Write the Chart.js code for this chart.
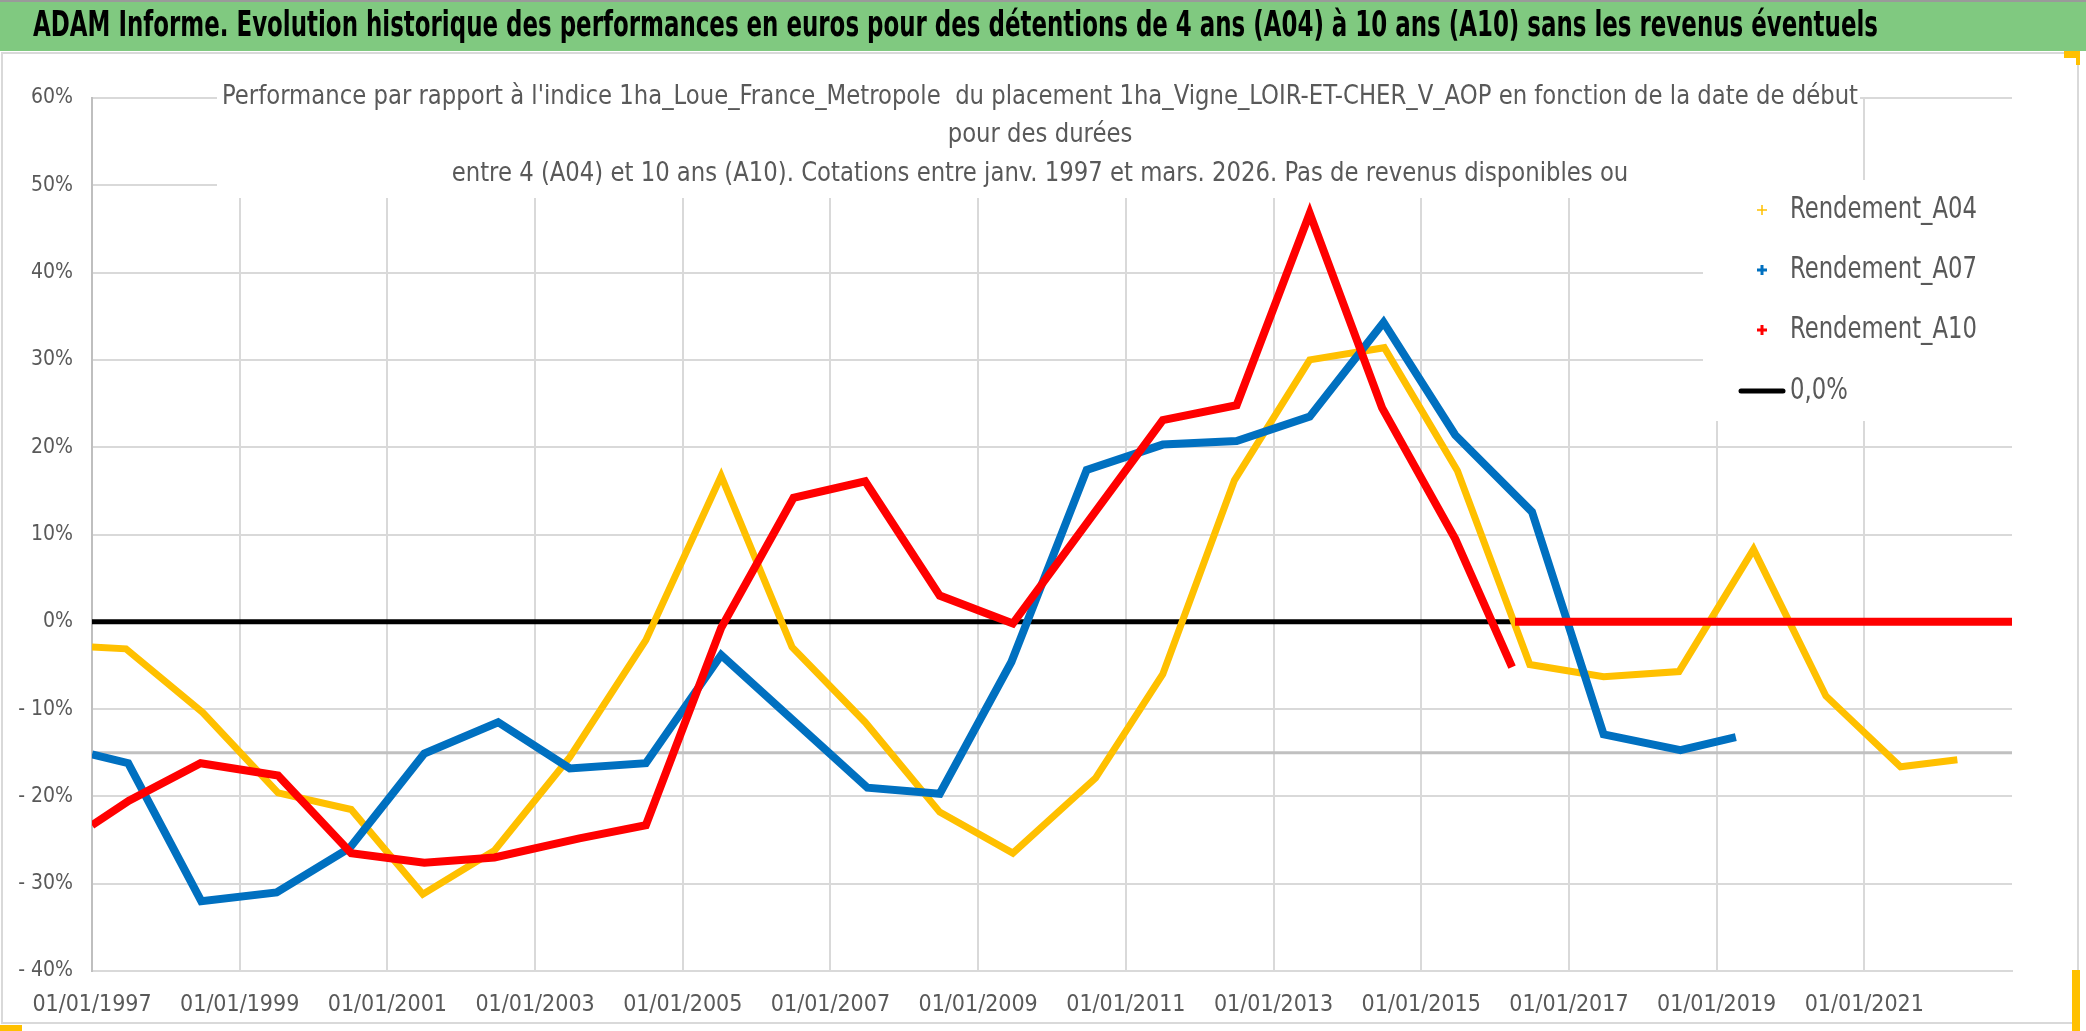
<!DOCTYPE html>
<html>
<head>
<meta charset="utf-8">
<script src="https://cdn.jsdelivr.net/npm/chart.js@4.4.1/dist/chart.umd.min.js"></script>
<style>
  html, body { margin: 0; padding: 0; background: #fff; overflow: hidden; }
  canvas { display: block; }
</style>
</head>
<body>
<canvas id="chart" width="2086" height="1031"></canvas>
<script>
// texts
const titleText = 'ADAM Informe. Evolution historique des performances en euros pour des détentions de 4 ans (A04) à 10 ans (A10) sans les revenus éventuels';
const subtitleLines = [
    "Performance par rapport à l'indice 1ha_Loue_France_Metropole  du placement 1ha_Vigne_LOIR-ET-CHER_V_AOP en fonction de la date de début",
    'pour des durées',
    'entre 4 (A04) et 10 ans (A10). Cotations entre janv. 1997 et mars. 2026. Pas de revenus disponibles ou'
];
const seriesNames = ['Rendement_A04', 'Rendement_A07', 'Rendement_A10', '0,0%'];

// x axis: years (01/01/YYYY), y axis: percent
const xMin = 1997, xMax = 2023, xStep = 2;
const yMin = -40, yMax = 60, yStep = 10;

// Rendement_A04
const datesA04 = [1997.0, 1997.46, 1998.5, 1999.52, 2000.51, 2001.48, 2002.45, 2003.47, 2004.5, 2005.52,
    2006.48, 2007.47, 2008.48, 2009.47, 2010.59, 2011.5, 2012.47, 2013.49, 2014.5, 2015.49,
    2016.47, 2017.47, 2018.49, 2019.5, 2020.48, 2021.49, 2022.26];
const valuesA04 = [-2.9, -3.1, -10.4, -19.6, -21.5, -31.2, -26.2, -15.5, -2.1, 16.7,
    -2.9, -11.5, -21.8, -26.5, -17.9, -6.0, 16.2, 30.0, 31.4, 17.3,
    -4.9, -6.3, -5.7, 8.3, -8.5, -16.6, -15.8];

// Rendement_A07
const datesA07 = [1997.0, 1997.49, 1998.48, 1999.5, 2000.49, 2001.5, 2002.5, 2003.47, 2004.5, 2005.52,
    2007.5, 2008.48, 2009.45, 2010.47, 2011.5, 2012.5, 2013.49, 2014.49, 2015.46, 2016.5,
    2017.47, 2018.51, 2019.26];
const valuesA07 = [-15.2, -16.2, -32.0, -31.0, -25.9, -15.1, -11.5, -16.8, -16.2, -3.8,
    -19.0, -19.7, -4.6, 17.4, 20.3, 20.7, 23.5, 34.3, 21.4, 12.6,
    -12.9, -14.7, -13.2];

// Rendement_A10 (null = break between the two runs)
const datesA10 = [1997.0, 1997.5, 1998.47, 1999.52, 2000.51, 2001.5, 2002.45, 2003.6, 2004.5, 2005.52,
    2006.5, 2007.47, 2008.48, 2009.47, 2011.5, 2012.5, 2013.49, 2014.47, 2015.46, 2016.23,
    2016.25, 2016.27, 2023.0];
const valuesA10 = [-23.3, -20.5, -16.2, -17.6, -26.5, -27.6, -27.0, -24.8, -23.3, -0.7,
    14.2, 16.1, 3.0, -0.2, 23.1, 24.8, 46.8, 24.5, 9.5, -5.2,
    null, 0, 0];

// reference lines
const datesZero = [1997.0, 2023.0];
const valuesZero = [0, 0];
const datesRef = [1997.0, 2023.0];
const valuesRef = [-15, -15];

const colA04 = '#FFC000', colA07 = '#0070C0', colA10 = '#FF0000';
const narrow = "'Liberation Sans Narrow', 'DejaVu Sans Condensed', sans-serif";
const gray = '#595959';

function pts(xs, ys) {
    return xs.map((x, i) => ({ x: x, y: ys[i] }));
}

// draw text squeezed/stretched to a given width
function fitText(ctx, text, x, y, align, width, sy) {
    const w0 = ctx.measureText(text).width;
    ctx.save();
    ctx.translate(x, y);
    ctx.scale(width / w0, sy);
    ctx.textAlign = align;
    ctx.textBaseline = 'middle';
    ctx.fillText(text, 0, 0);
    ctx.restore();
}

// frame, green title band
const framePlugin = {
    id: 'frame',
    beforeDraw(chart) {
        const ctx = chart.ctx;
        ctx.save();
        ctx.fillStyle = '#ffffff';
        ctx.fillRect(0, 0, chart.width, chart.height);
        ctx.fillStyle = '#80C980';
        ctx.fillRect(0, 0, chart.width, 51);
        ctx.fillStyle = '#9a9a9a';
        ctx.fillRect(0, 0, chart.width, 2);
        ctx.strokeStyle = '#d9d9d9';
        ctx.lineWidth = 2;
        ctx.strokeRect(2, 53, 2076, 970);
        ctx.fillStyle = '#FFC000';
        ctx.fillRect(0, 1025, 22, 6);
        ctx.fillRect(2072, 970, 8, 61);
        ctx.fillRect(2064, 51, 16, 7);
        ctx.fillRect(2076, 51, 4, 14);
        ctx.restore();
    }
};

// white boxes of the title and legend hide the grid under them
const maskPlugin = {
    id: 'mask',
    beforeDatasetsDraw(chart) {
        const ctx = chart.ctx;
        ctx.save();
        ctx.fillStyle = '#ffffff';
        ctx.fillRect(217, 60, 1860 - 217, 198 - 60);
        ctx.fillRect(1703, 180, 2060 - 1703, 421 - 180);
        ctx.restore();
    }
};

const textPlugin = {
    id: 'texts',
    afterDraw(chart) {
        const ctx = chart.ctx;
        ctx.save();
        ctx.fillStyle = '#000000';
        ctx.font = 'bold 27px ' + narrow;
        fitText(ctx, titleText, 33, 27, 'left', 1845, 1.3);

        ctx.fillStyle = gray;
        ctx.font = '22px ' + narrow;
        const sx = 1636 / ctx.measureText(subtitleLines[0]).width;
        subtitleLines.forEach((line, i) => {
            const w = ctx.measureText(line).width * sx;
            fitText(ctx, line, 1040, [97, 135, 174][i], 'center', w, 1.2);
        });

        // legend
        const rows = [210, 270, 330, 391];
        const cols = [colA04, colA07, colA10];
        const widths = [1.5, 3, 3];
        for (let i = 0; i < 3; i++) {
            ctx.strokeStyle = cols[i];
            ctx.lineWidth = widths[i];
            ctx.beginPath();
            ctx.moveTo(1757, rows[i]); ctx.lineTo(1767, rows[i]);
            ctx.moveTo(1762, rows[i] - 5); ctx.lineTo(1762, rows[i] + 5);
            ctx.stroke();
        }
        ctx.strokeStyle = '#000000';
        ctx.lineWidth = 5;
        ctx.lineCap = 'round';
        ctx.beginPath();
        ctx.moveTo(1741, rows[3]); ctx.lineTo(1783, rows[3]);
        ctx.stroke();

        ctx.fillStyle = gray;
        ctx.font = '28px ' + narrow;
        const lx = 187 / ctx.measureText(seriesNames[0]).width;
        for (let i = 0; i < 4; i++) {
            const w = ctx.measureText(seriesNames[i]).width * lx;
            fitText(ctx, seriesNames[i], 1790, rows[i], 'left', w, 1.05);
        }
        ctx.restore();
    }
};

new Chart(document.getElementById('chart'), {
    type: 'line',
    data: {
        datasets: [
            {
                label: seriesNames[2],
                data: pts(datesA10, valuesA10),
                borderColor: colA10,
                borderWidth: 8,
                spanGaps: false,
                order: 1
            },
            {
                label: seriesNames[1],
                data: pts(datesA07, valuesA07),
                borderColor: colA07,
                borderWidth: 8,
                order: 2
            },
            {
                label: seriesNames[0],
                data: pts(datesA04, valuesA04),
                borderColor: colA04,
                borderWidth: 7,
                order: 3
            },
            {
                label: seriesNames[3],
                data: pts(datesZero, valuesZero),
                borderColor: '#000000',
                borderWidth: 5,
                order: 4
            },
            {
                label: 'ref',
                data: pts(datesRef, valuesRef),
                borderColor: '#c0c0c0',
                borderWidth: 3,
                order: 5
            }
        ]
    },
    options: {
        responsive: false,
        animation: false,
        devicePixelRatio: 1,
        layout: { padding: { left: 0, right: 74, top: 98, bottom: 0 } },
        elements: {
            point: { radius: 0 },
            line: { tension: 0, borderCapStyle: 'butt', borderJoinStyle: 'miter' }
        },
        plugins: {
            legend: { display: false },
            title: { display: false },
            tooltip: { enabled: false }
        },
        scales: {
            x: {
                type: 'linear',
                min: xMin,
                max: xMax,
                afterFit(scale) { scale.height = 60; },
                ticks: {
                    stepSize: xStep,
                    padding: 20,
                    maxRotation: 0,
                    autoSkip: false,
                    color: gray,
                    font: { family: narrow, size: 23 },
                    callback: v => (v === xMax ? '' : '01/01/' + v)
                },
                grid: {
                    drawTicks: false,
                    lineWidth: 2,
                    color: ctx => (ctx.tick && ctx.tick.value === xMax ? 'rgba(0,0,0,0)' : '#d9d9d9')
                },
                border: { color: '#d9d9d9', width: 2 }
            },
            y: {
                min: yMin,
                max: yMax,
                afterFit(scale) { scale.width = 92; },
                ticks: {
                    stepSize: yStep,
                    padding: 19,
                    color: gray,
                    font: { family: narrow, size: 21 },
                    callback: v => (v < 0 ? '- ' + (-v) + '%' : v + '%')
                },
                grid: { drawTicks: false, lineWidth: 2, color: '#d9d9d9' },
                border: { color: '#bfbfbf', width: 2 }
            }
        }
    },
    plugins: [framePlugin, maskPlugin, textPlugin]
});
</script>
</body>
</html>
